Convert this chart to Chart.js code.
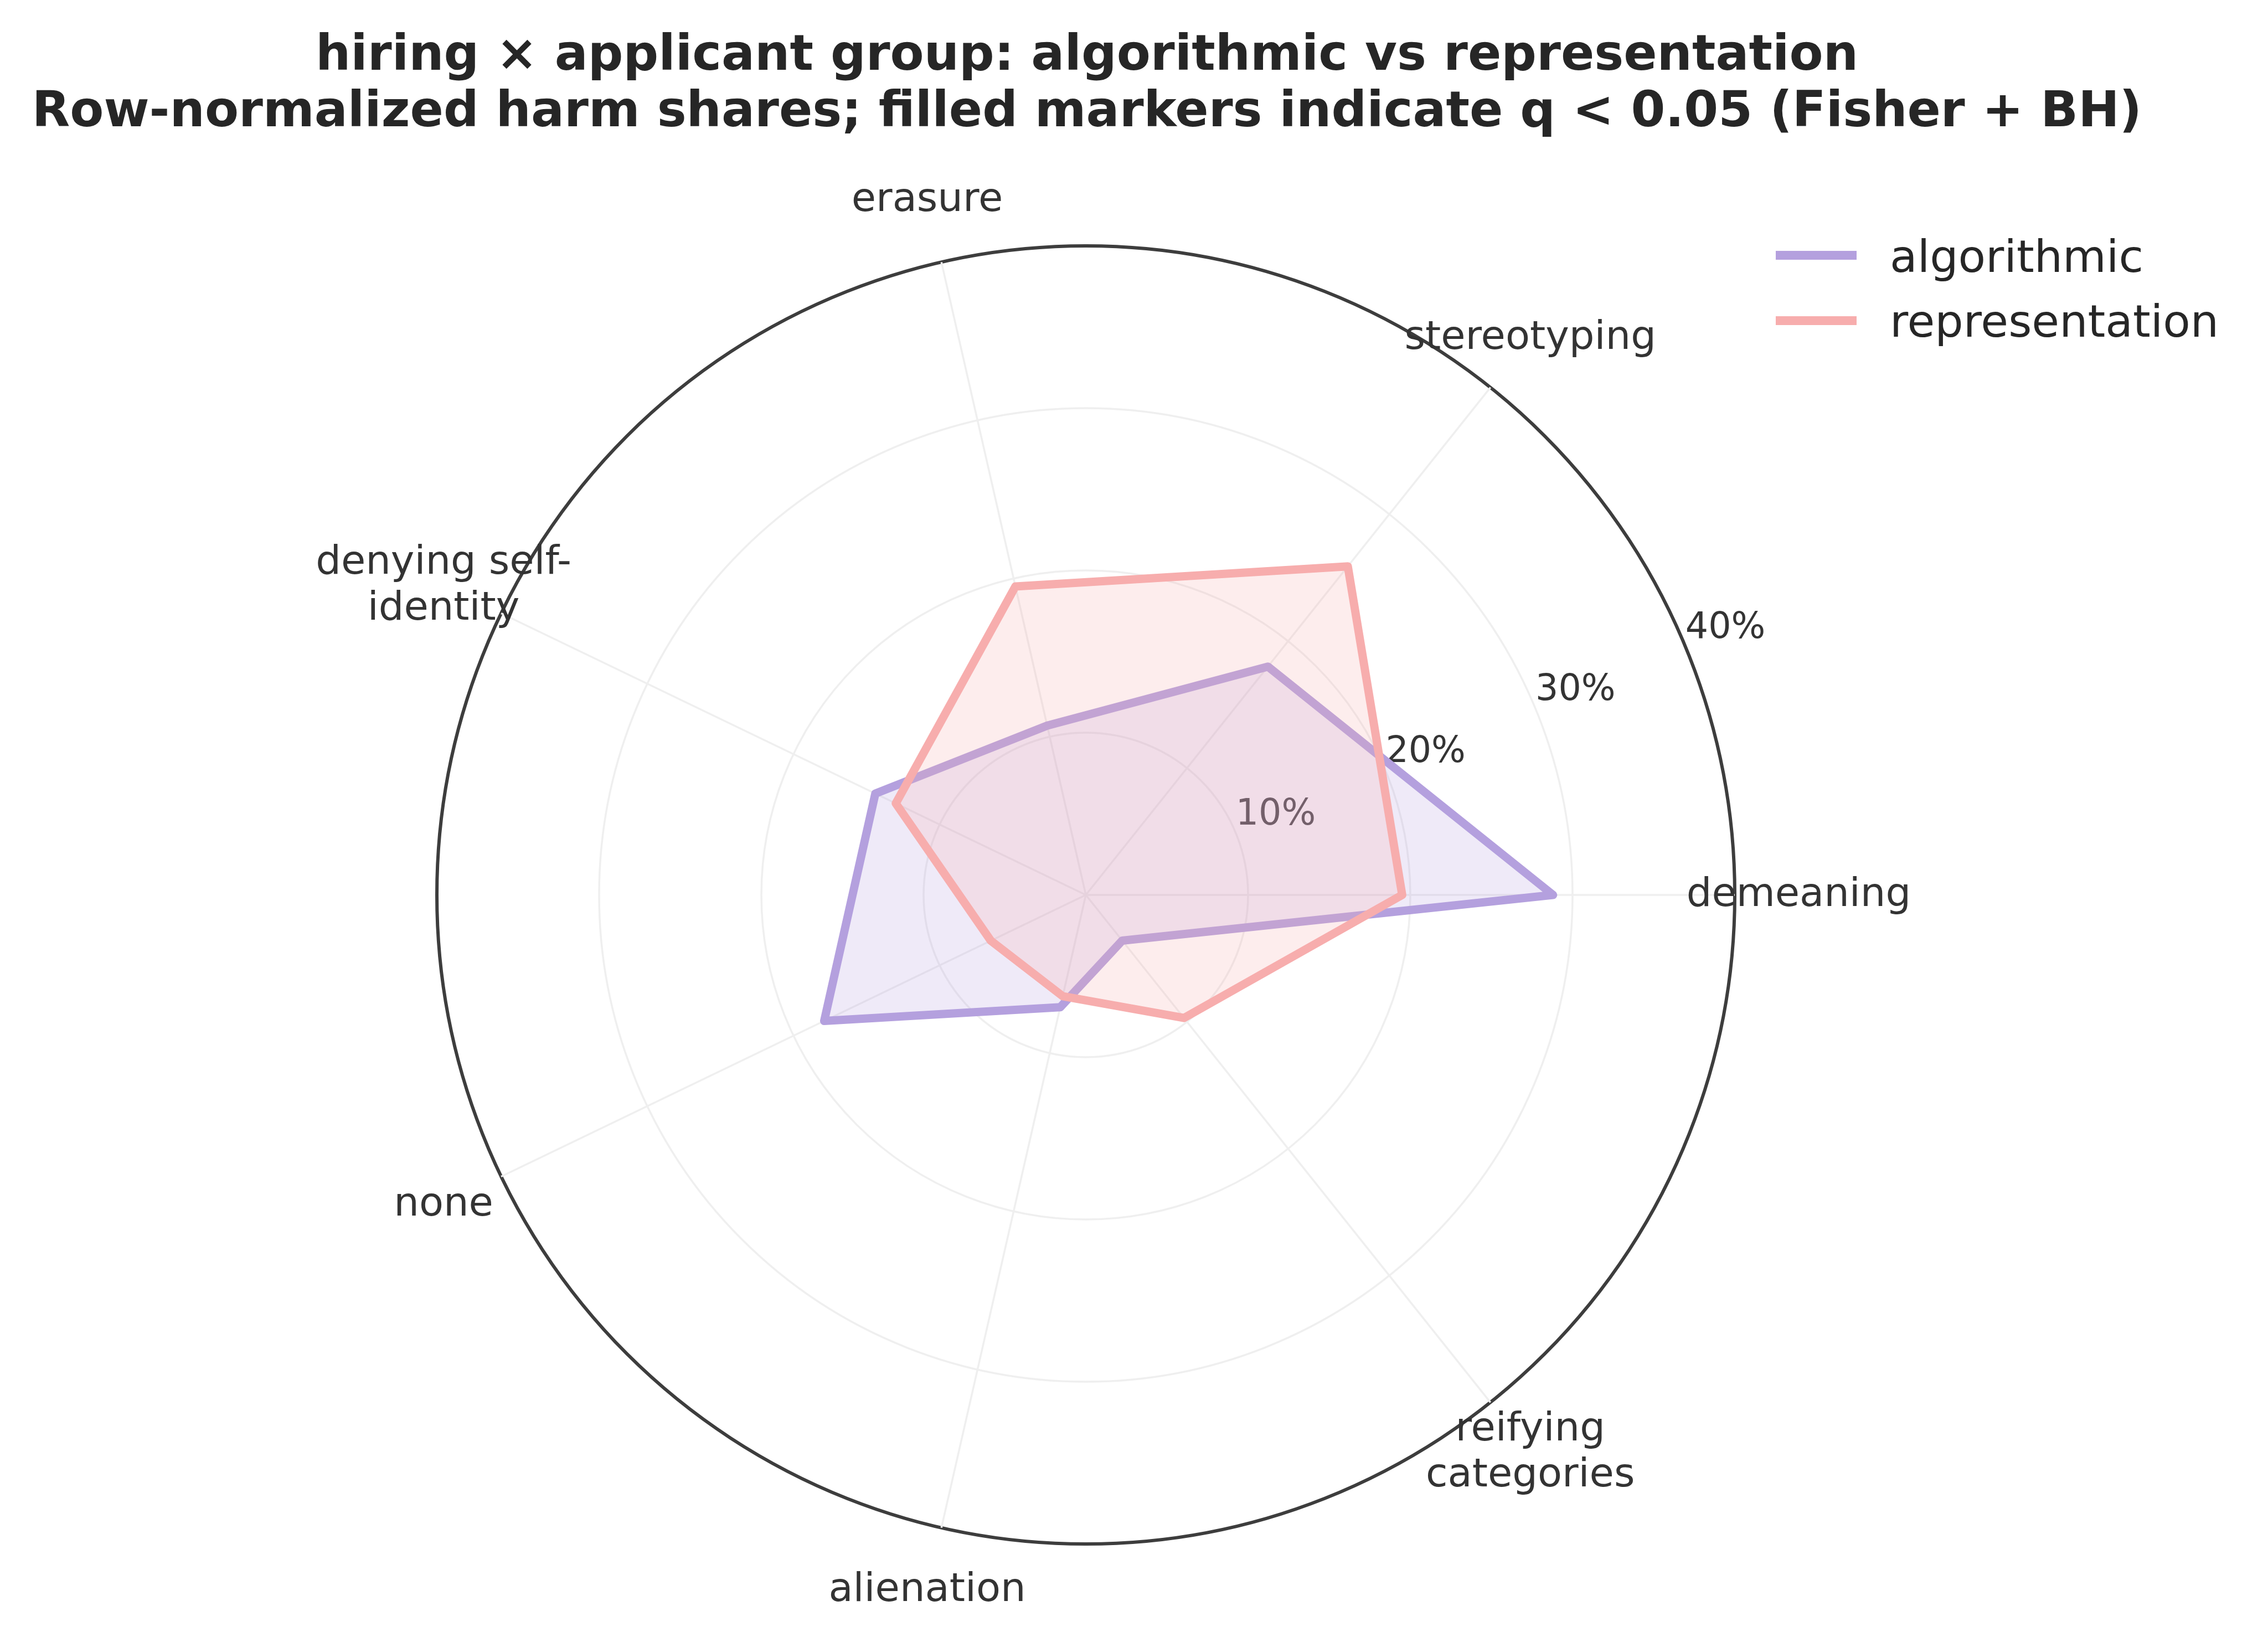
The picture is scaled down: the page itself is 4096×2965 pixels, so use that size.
<!DOCTYPE html>
<html><head><meta charset="utf-8">
<script src="https://cdn.jsdelivr.net/npm/chart.js@4.4.1/dist/chart.umd.min.js"></script>
<style>html,body{margin:0;padding:0;background:#fff;overflow:hidden}#wrap{width:4096px;height:2965px;position:relative}canvas{display:block}</style>
</head><body><div id="wrap"><canvas id="c" width="4096" height="2965"></canvas></div>
<script>
// Categories in clockwise display order starting at the right (demeaning)
const categories = ['demeaning', ['reifying', 'categories'], 'alienation', 'none', ['denying self-', 'identity'], 'erasure', 'stereotyping'];
const seriesNames = ['algorithmic', 'representation'];
const algorithmic = [28.8, 3.6, 7.1, 17.9, 14.4, 10.7, 18.0];
const representation = [19.5, 9.7, 6.4, 6.5, 13.0, 19.5, 25.9];
const rTicks = [10, 20, 30, 40];
const tickLabels = ['10%', '20%', '30%', '40%'];
const titleLines = ['hiring \u00d7 applicant group: algorithmic vs representation',
  'Row-normalized harm shares; filled markers indicate q < 0.05 (Fisher + BH)'];

const PURPLE = 'rgb(180,160,222)';
const PINK = 'rgb(247,173,173)';
const FONT = '"DejaVu Sans", "Liberation Sans", sans-serif';

const deco = {
  id: 'deco',
  beforeDatasetsDraw(chart) {
    const s = chart.scales.r, ctx = chart.ctx;
    ctx.save();
    // radial tick labels at 22.5 degrees
    const tf = 65;
    ctx.font = tf + 'px ' + FONT;
    ctx.fillStyle = '#333333';
    ctx.textAlign = 'left';
    ctx.textBaseline = 'alphabetic';
    const a = 22.5 * Math.PI / 180;
    rTicks.forEach((v, i) => {
      const d = s.getDistanceFromCenterForValue(v);
      ctx.fillText(tickLabels[i], s.xCenter + d * Math.cos(a), s.yCenter - d * Math.sin(a) - 0.236 * tf);
    });
    // category labels
    const pf = 72, lh = 82.5;
    ctx.font = pf + 'px ' + FONT;
    ctx.textAlign = 'center';
    const lblR = s.drawingArea * 1.0985;
    categories.forEach((c, i) => {
      const lines = Array.isArray(c) ? c : [c];
      const p = s.getPointPosition(i, lblR);
      const n = lines.length;
      lines.forEach((t, j) => {
        ctx.fillText(t, p.x, p.y + 0.28 * pf + (j - (n - 1) / 2) * lh);
      });
    });
    ctx.restore();
  },
  afterDraw(chart) {
    const ctx = chart.ctx;
    ctx.save();
    // title
    ctx.font = 'bold 89px ' + FONT;
    ctx.fillStyle = '#262626';
    ctx.textAlign = 'center';
    ctx.textBaseline = 'alphabetic';
    ctx.fillText(titleLines[0], 1963, 126);
    ctx.fillText(titleLines[1], 1963, 228);
    // legend
    const cols = [PURPLE, PINK];
    const ly = [461, 579], ty = [491, 608];
    ctx.font = '81px ' + FONT;
    ctx.textAlign = 'left';
    seriesNames.forEach((nm, i) => {
      ctx.strokeStyle = cols[i];
      ctx.lineWidth = 16;
      ctx.lineCap = 'butt';
      ctx.beginPath();
      ctx.moveTo(3207, ly[i]);
      ctx.lineTo(3353, ly[i]);
      ctx.stroke();
      ctx.fillStyle = '#262626';
      ctx.fillText(nm, 3413, ty[i]);
    });
    ctx.restore();
  }
};

new Chart(document.getElementById('c'), {
  type: 'radar',
  data: {
    labels: categories,
    datasets: [
      {
        label: seriesNames[0], data: algorithmic, order: 1,
        borderColor: PURPLE, backgroundColor: 'rgba(180,160,222,0.22)',
        fill: true, borderWidth: 15, pointRadius: 0, pointHoverRadius: 0,
        borderJoinStyle: 'round', borderCapStyle: 'round', tension: 0
      },
      {
        label: seriesNames[1], data: representation, order: 0,
        borderColor: PINK, backgroundColor: 'rgba(247,173,173,0.22)',
        fill: true, borderWidth: 15, pointRadius: 0, pointHoverRadius: 0,
        borderJoinStyle: 'round', borderCapStyle: 'round', tension: 0
      }
    ]
  },
  options: {
    responsive: false,
    devicePixelRatio: 1,
    animation: false,
    events: [],
    layout: { padding: { left: 789, top: 444, right: 963, bottom: 177 } },
    plugins: { legend: { display: false }, tooltip: { enabled: false }, title: { display: false } },
    scales: {
      r: {
        min: 0, max: 40, startAngle: 90,
        ticks: { display: false, stepSize: 10 },
        pointLabels: { display: false },
        grid: {
          circular: true,
          color: c => (c.tick && c.tick.value === 40) ? '#3d3d3d' : '#efefef',
          lineWidth: c => (c.tick && c.tick.value === 40) ? 6 : 3.5
        },
        angleLines: { color: '#efefef', lineWidth: 3.5 }
      }
    }
  },
  plugins: [deco]
});
</script>
</body></html>
